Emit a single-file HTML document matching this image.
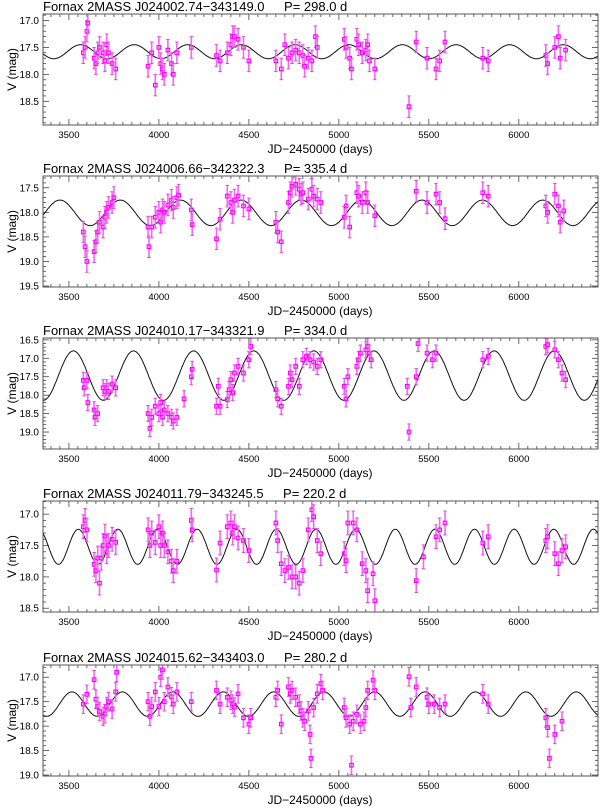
<!DOCTYPE html>
<html><head><meta charset="utf-8"><style>
body{margin:0;background:#fff;}
svg text{font-family:"Liberation Sans",sans-serif;}
</style></head><body>
<svg id="chart" width="600" height="806" viewBox="0 0 600 806" xmlns="http://www.w3.org/2000/svg"></svg>
<script>
// ---- data ----
const titles = [
 "Fornax 2MASS J024002.74\u2212343149.0",
 "Fornax 2MASS J024006.66\u2212342322.3",
 "Fornax 2MASS J024010.17\u2212343321.9",
 "Fornax 2MASS J024011.79\u2212343245.5",
 "Fornax 2MASS J024015.62\u2212343403.0"];
const periods = [298.0, 335.4, 334.0, 220.2, 280.2];
const sineMean = [17.58, 18.01, 17.47, 17.52, 17.55];
const sineAmp = [0.13, 0.26, 0.67, 0.28, 0.25];
const sineT0 = [3565, 3450, 3525, 3552, 3517];
const yTop = [16.88, 17.26, 16.45, 16.79, 16.75];
const yBottom = [18.94, 19.52, 19.46, 18.56, 19.02];
const yTickLabels = [["17.0","17.5","18.0","18.5"],["17.5","18.0","18.5","19.0","19.5"],["16.5","17.0","17.5","18.0","18.5","19.0"],["17.0","17.5","18.0","18.5"],["17.0","17.5","18.0","18.5","19.0"]];
const xTickLabels = ["3500","4000","4500","5000","5500","6000"];
const errs = [0.2, 0.22, 0.22, 0.19, 0.19];

const t1 = [3580,3590,3600,3605,3640,3650,3660,3670,3690,3700,3710,3720,3740,3760,3940,3960,3980,4000,4010,4020,4030,4050,4070,4080,4100,4180,4320,4340,4380,4400,4410,4420,4440,4470,4500,4650,4680,4700,4720,4740,4760,4780,4800,4810,4830,4850,4870,4880,5030,5040,5060,5070,5100,5110,5130,5150,5160,5170,5200,5390,5430,5490,5540,5560,5590,5800,5830,6150,6160,6200,6220,6230,6260];
const m1 = [17.6,17.5,17.2,17.05,17.7,17.8,17.6,17.5,17.6,17.75,17.45,17.6,17.8,17.9,17.85,17.6,18.2,17.5,17.8,17.9,18.0,17.55,17.8,18.0,17.6,17.5,17.65,17.75,17.6,17.45,17.3,17.3,17.35,17.5,17.75,17.75,17.9,17.45,17.7,17.6,17.55,17.6,17.65,17.85,17.7,17.75,17.3,17.5,17.35,17.5,17.7,17.9,17.35,17.45,17.6,17.55,17.45,17.75,17.9,18.6,17.4,17.7,17.9,17.75,17.4,17.7,17.75,17.65,17.8,17.5,17.3,17.7,17.55];

const t2 = [3580,3590,3600,3640,3650,3660,3670,3690,3700,3710,3720,3740,3750,3940,3945,3960,3980,4000,4010,4020,4030,4050,4070,4080,4100,4110,4180,4185,4320,4340,4380,4400,4410,4420,4440,4470,4500,4650,4660,4680,4720,4730,4740,4760,4780,4790,4800,4830,4850,4860,4880,4900,5030,5040,5060,5100,5110,5130,5150,5160,5200,5430,5490,5540,5560,5590,5800,5830,6150,6160,6200,6220,6230,6250];
const m2 = [18.4,18.7,19.0,18.8,18.6,18.4,18.2,18.3,18.1,18.0,17.9,17.8,17.7,18.3,18.7,18.3,18.1,18.0,18.2,17.95,18.0,17.85,17.75,17.9,17.7,17.65,17.95,18.25,18.54,18.14,17.67,17.8,18.0,17.75,17.67,17.87,17.93,18.2,18.4,18.6,17.8,17.6,17.47,17.43,17.53,17.63,17.6,17.73,17.53,17.67,17.73,17.8,18.1,17.87,18.3,17.6,17.67,17.8,17.6,17.8,18.07,17.57,17.8,17.63,17.8,18.13,17.6,17.67,17.87,18.0,17.63,17.87,18.2,17.97];

const t3 = [3580,3585,3600,3605,3640,3645,3660,3690,3700,3710,3720,3740,3760,3940,3950,3960,3980,4000,4010,4020,4030,4050,4070,4080,4100,4140,4180,4185,4320,4330,4340,4380,4390,4400,4410,4420,4440,4470,4500,4510,4650,4660,4680,4720,4730,4740,4760,4780,4800,4820,4840,4860,4880,4900,5030,5040,5050,5100,5110,5120,5150,5160,5170,5180,5380,5390,5430,5440,5490,5520,5540,5800,5830,6150,6160,6200,6220,6240,6260];
const m3 = [17.6,17.8,17.6,18.2,18.4,18.6,18.5,17.8,17.9,17.8,17.9,17.7,17.8,18.5,18.9,18.6,18.3,18.5,18.2,18.6,18.4,18.5,18.6,18.7,18.6,18.1,17.5,17.3,18.3,17.76,18.3,18.12,17.85,17.58,17.93,17.4,17.22,17.4,17.04,16.68,17.85,18.1,18.3,17.76,17.4,17.58,17.22,17.76,17.04,16.95,17.04,17.1,17.22,17.04,17.76,18.1,17.5,17.22,17.04,16.86,16.77,16.68,16.86,17.04,17.76,19.0,17.5,16.6,16.86,17.04,16.86,17.04,16.95,16.68,16.63,16.77,17.04,17.4,17.58];

const t4 = [3580,3590,3600,3640,3650,3660,3670,3680,3690,3700,3710,3720,3740,3760,3940,3950,3960,3980,4000,4010,4020,4030,4050,4070,4080,4100,4180,4185,4320,4340,4380,4400,4410,4420,4440,4470,4500,4650,4660,4680,4700,4720,4740,4760,4780,4800,4830,4850,4860,4880,4900,5030,5040,5050,5080,5100,5130,5150,5160,5190,5200,5430,5470,5540,5560,5590,5800,5830,6150,6160,6200,6220,6240,6260];
const m4 = [17.2,17.1,17.25,17.8,17.9,17.7,18.1,17.7,17.5,17.35,17.6,17.5,17.4,17.45,17.25,17.5,17.3,17.45,17.2,17.5,17.3,17.5,17.6,17.75,17.9,17.75,17.1,17.25,17.89,17.46,17.2,17.14,17.3,17.2,17.38,17.42,17.58,17.14,17.42,17.79,17.9,17.85,18.0,18.0,18.1,17.9,17.25,16.93,17.04,17.42,17.63,17.63,17.74,17.14,17.14,17.25,17.79,17.9,18.22,17.95,18.38,18.06,17.68,17.36,17.25,17.14,17.46,17.36,17.42,17.36,17.63,17.79,17.58,17.52];

const t5 = [3580,3600,3640,3650,3660,3670,3690,3700,3710,3720,3740,3760,3765,3940,3950,3960,3980,4000,4010,4020,4030,4050,4070,4080,4100,4180,4320,4340,4380,4400,4410,4420,4440,4470,4500,4510,4650,4660,4680,4720,4730,4740,4760,4780,4790,4800,4810,4830,4840,4845,4860,4880,4900,4910,5030,5040,5060,5070,5080,5100,5120,5140,5150,5160,5190,5200,5390,5400,5430,5490,5500,5530,5560,5590,5800,5830,6150,6160,6170,6200,6240];
const m5 = [17.55,17.35,17.05,17.45,17.6,17.7,17.8,17.75,17.6,17.5,17.65,17.3,16.9,17.5,17.8,17.6,17.3,17.6,17.0,16.85,17.5,17.2,17.4,17.55,17.3,17.5,17.27,17.55,17.41,17.47,17.55,17.61,17.34,17.83,17.96,17.83,17.41,17.27,17.96,17.2,17.34,17.27,17.41,17.55,17.69,17.83,17.9,17.69,18.17,18.66,17.62,17.34,17.13,17.27,17.62,17.83,17.96,18.8,17.9,17.76,17.96,17.9,17.62,17.27,17.06,17.27,16.99,17.62,17.2,17.41,17.55,17.55,17.62,17.55,17.34,17.55,17.83,18.03,18.66,18.17,17.9];

const times = [t1,t2,t3,t4,t5];
const mags = [m1,m2,m3,m4,m5];

// ---- layout ----
const X0 = 43, X1 = 598, D0 = 3356, D1 = 6440;
const panelTops = [14,176,338,501,665];
const PH = 111;
const NS = "http://www.w3.org/2000/svg";
const svg = document.getElementById('chart');
function mk(tag, attrs, parent){const e=document.createElementNS(NS,tag);for(const k in attrs)e.setAttribute(k,attrs[k]);(parent||svg).appendChild(e);return e;}
function xs(d){return X0+(d-D0)/(D1-D0)*(X1-X0);}

for(let p=0;p<5;p++){
  const top=panelTops[p], bot=top+PH;
  const ys = v => top+(v-yTop[p])/(yBottom[p]-yTop[p])*PH;
  const g = mk('g',{});
  
  
  const ti = mk('text',{x:X0,y:top-3,'font-size':13,fill:'#000','xml:space':'preserve'},g);
  ti.textContent = titles[p]+"\u2003\u2002P= "+periods[p].toFixed(1)+" d";
  
  
  const yl = mk('text',{x:0,y:0,'font-size':12,'text-anchor':'middle',transform:`translate(16,${top+PH/2}) rotate(-90)`},g);
  yl.textContent = "V (mag)";
  
  
  const xl = mk('text',{x:320,y:bot+28,'font-size':12,'text-anchor':'middle'},g);
  xl.textContent = "JD\u22122450000 (days)";
  
  
  const cp = mk('clipPath',{id:'c'+p},g);
  mk('rect',{x:X0,y:top,width:X1-X0,height:PH},cp);
  for(let d=3400; d<=6400; d+=50){
    const x=xs(d), maj=d%500===0, L=maj?6:3;
    mk('line',{x1:x,y1:bot,x2:x,y2:bot-L,stroke:'#444','stroke-width':0.8},g);
    mk('line',{x1:x,y1:top,x2:x,y2:top+L,stroke:'#444','stroke-width':0.8},g);
  }
  xTickLabels.forEach(s=>{
    const t=mk('text',{x:xs(+s),y:bot+13,'font-size':9.5,'text-anchor':'middle'},g);
    t.textContent=s;
    
    
  });
  const v0=Math.ceil(yTop[p]*10), v1=Math.floor(yBottom[p]*10);
  for(let v=v0; v<=v1; v++){
    const y=ys(v/10), L=(v%5===0)?6:3;
    mk('line',{x1:X0,y1:y,x2:X0+L,y2:y,stroke:'#444','stroke-width':0.8},g);
    mk('line',{x1:X1,y1:y,x2:X1-L,y2:y,stroke:'#444','stroke-width':0.8},g);
  }
  yTickLabels[p].forEach(s=>{
    const t=mk('text',{x:X0-4,y:ys(+s)+3.5,'font-size':10,'text-anchor':'end'},g);
    t.textContent=s;
    
    
  });
  let dstr='';
  for(let d=D0; d<=D1; d+=4){
    const m = sineMean[p]-sineAmp[p]*Math.cos(2*Math.PI*(d-sineT0[p])/periods[p]);
    dstr += (d===D0?'M':'L')+xs(d).toFixed(1)+','+ys(m).toFixed(1);
  }
  const sp = mk('path',{d:dstr,fill:'none',stroke:'#111','stroke-width':1,'clip-path':`url(#c${p})`},g);
  
  
  const pg = mk('g',{'clip-path':`url(#c${p})`},g);
  
  
  times[p].forEach((t,i)=>{
    const x=xs(t), y=ys(mags[p][i]), e=errs[p];
    const eb=mk('line',{x1:x,y1:ys(mags[p][i]-e),x2:x,y2:ys(mags[p][i]+e),stroke:'#f06af0','stroke-width':1.6},pg);
    
    
    mk('line',{x1:x-1.8,y1:ys(mags[p][i]-e),x2:x+1.8,y2:ys(mags[p][i]-e),stroke:'#e040e0','stroke-width':0.9},pg);
    mk('line',{x1:x-1.8,y1:ys(mags[p][i]+e),x2:x+1.8,y2:ys(mags[p][i]+e),stroke:'#e040e0','stroke-width':0.9},pg);
    const pt=mk('rect',{x:x-1.8,y:y-1.8,width:3.6,height:3.6,fill:'none',stroke:'#ff00ff','stroke-width':1.1},pg);
    
    
  });
  const fr = mk('rect',{x:X0,y:top,width:X1-X0,height:PH,fill:'none',stroke:'#555','stroke-width':1},g);
  
  
}
</script>
</body></html>
